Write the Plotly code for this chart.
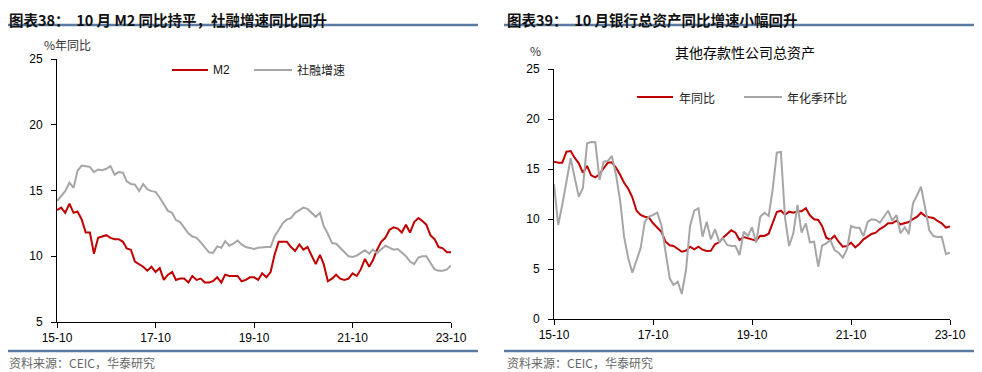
import plotly.graph_objects as go
import pandas as pd

# ---------------- data ----------------
months = pd.date_range("2015-10-01", "2023-10-01", freq="MS")
tick_vals = ["2015-10-01", "2017-10-01", "2019-10-01", "2021-10-01", "2023-10-01"]
tick_text = ["15-10", "17-10", "19-10", "21-10", "23-10"]

# Chart 38: M2 YoY and total social financing growth (%)
m2 = [13.5, 13.7, 13.3,
      14.0, 13.3, 13.4, 12.8, 11.8, 11.8, 10.2, 11.4, 11.5, 11.6, 11.4, 11.3,
      11.3, 11.1, 10.6, 10.5, 9.6, 9.4, 9.2, 8.9, 9.2, 8.8, 9.1, 8.2,
      8.6, 8.8, 8.2, 8.3, 8.3, 8.0, 8.5, 8.2, 8.3, 8.0, 8.0, 8.1,
      8.4, 8.0, 8.6, 8.5, 8.5, 8.5, 8.1, 8.2, 8.4, 8.4, 8.2, 8.7,
      8.4, 8.8, 10.1, 11.1, 11.1, 11.1, 10.7, 10.4, 10.9, 10.5, 10.7, 10.1,
      9.4, 10.1, 9.4, 8.1, 8.3, 8.6, 8.3, 8.2, 8.3, 8.7, 8.5, 9.0,
      9.8, 9.2, 9.7, 10.5, 11.1, 11.4, 12.0, 12.2, 12.1, 11.8, 12.4, 11.8,
      12.6, 12.9, 12.7, 12.4, 11.6, 11.3, 10.7, 10.6, 10.3, 10.3]
tsf = [14.2, 14.6, 14.95, 15.6, 15.2, 16.5, 16.9, 16.85, 16.8, 16.4,
       16.6, 16.55, 16.65, 16.85, 16.2, 16.4, 16.35, 15.7, 15.5, 15.45,
       14.95, 15.5, 15.1, 14.95, 14.9, 14.45, 14.0, 13.45, 13.3, 12.75,
       12.6, 12.15, 11.75, 11.5, 11.4, 11.05, 10.7, 10.3, 10.25, 10.75,
       10.65, 11.15, 10.8, 10.95, 11.2, 10.9, 10.7, 10.65, 10.55, 10.65,
       10.7, 10.7, 10.7, 11.5, 12.0, 12.5, 12.8, 12.9, 13.3, 13.5,
       13.7, 13.6, 13.3, 13.0, 13.3, 12.3, 11.7, 11.0, 10.95, 10.65,
       10.3, 10.0, 9.95, 10.05, 10.25, 10.45, 10.2, 10.5, 10.25, 10.55,
       10.8, 10.65, 10.5, 10.55, 10.3, 10.0, 9.6, 9.4, 9.9, 10.0,
       10.0, 9.5, 9.0, 8.9, 8.9, 9.0, 9.3]

# Chart 39: other depository corporations total assets (%)
assets_yoy = [15.73, 15.63, 15.63, 16.73, 16.8, 16.13, 15.57, 14.63, 15.3, 14.37,
              14.17, 14.47, 15.07, 15.63, 15.67, 15.13, 14.4, 13.63, 13.03, 12.17,
              10.83, 10.4, 10.23, 10.13, 9.57, 9.17, 8.73, 7.73, 7.37, 7.3,
              6.97, 6.73, 6.83, 7.23, 6.97, 7.23, 6.93, 6.8, 6.83, 7.47,
              7.67, 8.13, 8.5, 8.87, 8.63, 7.9, 8.2, 8.1, 8.0, 7.83,
              8.33, 8.3, 8.53, 9.63, 10.7, 10.83, 10.43, 10.73, 10.63, 10.77,
              10.77, 11.07, 10.37, 9.97, 9.9, 9.3, 8.13, 7.93, 8.33, 7.73,
              7.23, 7.3, 7.63, 7.17, 7.5, 7.97, 8.23, 8.5, 8.63, 9.0,
              9.23, 9.57, 9.57, 9.83, 9.47, 9.6, 9.7, 10.0, 10.23, 10.63,
              10.3, 10.17, 10.1, 9.8, 9.57, 9.13, 9.25]
assets_qoq_ann = [13.5, 9.4, 11.43, 13.8, 16.07, 14.17, 12.23, 13.07, 17.57, 17.7,
                  17.67, 13.9, 15.73, 15.8, 16.3, 14.4, 11.73, 8.23, 6.07, 4.63,
                  5.9, 7.07, 9.73, 10.23, 10.4, 10.63, 9.4, 6.9, 4.07, 3.4,
                  3.73, 2.5, 4.9, 9.3, 10.83, 11.07, 8.23, 9.73, 7.97, 8.97,
                  7.73, 8.07, 7.4, 7.3, 7.3, 6.4, 8.73, 8.3, 9.17, 7.63,
                  10.23, 10.63, 10.3, 12.9, 16.63, 16.7, 10.07, 7.3, 8.57, 11.4,
                  8.63, 9.57, 7.67, 7.73, 5.23, 7.33, 7.57, 7.9, 6.9, 6.63,
                  6.13, 6.97, 9.3, 9.13, 9.13, 8.3, 9.73, 9.97, 9.9, 9.63,
                  10.3, 10.83, 9.83, 10.4, 8.57, 9.17, 8.5, 11.57, 12.4, 13.23,
                  11.07, 8.87, 8.3, 8.2, 8.23, 6.5, 6.63]

left_names = ["M2", "社融增速"]
right_names = ["年同比", "年化季环比"]

# ---------------- styles ----------------
# The page body keeps the browser's default 8px margin, so the figure is
# drawn 8px in from the window's top-left corner; all layout coordinates
# below are given in window pixels and converted here.
OFF = 8
W, H = 982 - OFF, 372 - OFF
RED = "#C00000"
GREY = "#A6A6A6"
BLUE = "#5B7BA3"
NUM_FONT = "Liberation Sans, Arial, Noto Sans CJK SC"
CJK_FONT = "Noto Sans CJK SC, Liberation Sans"


def px(x):
    return (x - OFF) / W


def py(y):
    return (H - (y - OFF)) / H


fig = go.Figure()
fig.add_trace(go.Scatter(x=months, y=m2, name=left_names[0], mode="lines",
                         line=dict(color=RED, width=2), xaxis="x", yaxis="y"))
fig.add_trace(go.Scatter(x=months, y=tsf, name=left_names[1], mode="lines",
                         line=dict(color=GREY, width=2), xaxis="x", yaxis="y"))
fig.add_trace(go.Scatter(x=months, y=assets_yoy, name=right_names[0], mode="lines",
                         line=dict(color=RED, width=2), xaxis="x2", yaxis="y2"))
fig.add_trace(go.Scatter(x=months, y=assets_qoq_ann, name=right_names[1], mode="lines",
                         line=dict(color=GREY, width=2), xaxis="x2", yaxis="y2"))

axis_common = dict(showgrid=False, zeroline=False, showline=True, linecolor="black",
                   linewidth=1, ticks="outside", ticklen=5, tickcolor="black",
                   tickwidth=1, automargin=False,
                   tickfont=dict(family=NUM_FONT, size=12, color="black"))

x_common = dict(axis_common, type="date", range=[months[0], months[-1]],
                tickmode="array", tickvals=tick_vals, ticktext=tick_text)

fig.update_layout(
    template="none",
    width=W, height=H,
    margin=dict(l=0, r=0, t=0, b=0, autoexpand=False),
    paper_bgcolor="white", plot_bgcolor="white",
    showlegend=False,
    xaxis=dict(x_common, domain=[px(57), px(451)], anchor="y"),
    yaxis=dict(axis_common, domain=[py(322), py(59)], range=[5, 25], dtick=5,
               tick0=5, anchor="x", ticklabelstandoff=6),
    xaxis2=dict(x_common, domain=[px(554), px(950)], anchor="y2"),
    yaxis2=dict(axis_common, domain=[py(319), py(69)], range=[0, 25], dtick=5,
                tick0=0, anchor="x2", ticklabelstandoff=6),
)


def hline(x0, x1, y, color, width):
    return dict(type="line", xref="paper", yref="paper", x0=px(x0), x1=px(x1),
                y0=py(y), y1=py(y), line=dict(color=color, width=width))


def note(text, x, y, size=12, color="#222", bold=False, family=CJK_FONT,
         anchor="left", yanchor="middle"):
    if bold:
        text = "<b>" + text + "</b>"
    return dict(text=text, xref="paper", yref="paper", x=px(x), y=py(y),
                xanchor=anchor, yanchor=yanchor, showarrow=False, borderpad=0,
                font=dict(family=family, size=size, color=color))


shapes = [
    # header / footer rules
    hline(6, 478, 25, BLUE, 2.5),
    hline(504, 982, 25, BLUE, 2.5),
    hline(6, 478, 351, BLUE, 2.5),
    hline(504, 982, 351, BLUE, 2.5),
    # legend swatches
    hline(172, 208, 70, RED, 2),
    hline(254, 292, 70, GREY, 2),
    hline(637, 673, 97, RED, 2),
    hline(744, 782, 97, GREY, 2),
]

annotations = [
    note("图表38：  10 月 M2 同比持平，社融增速同比回升", 8, 8, size=14.5, color="#111",
         bold=True, yanchor="top"),
    note("图表39：  10 月银行总资产同比增速小幅回升", 506, 8, size=14.5, color="#111",
         bold=True, yanchor="top"),
    note("%年同比", 43, 45, size=12, color="#333"),
    note("%", 529, 50, size=12, color="#333"),
    note("其他存款性公司总资产", 745, 52, size=14, color="#000", anchor="center"),
    note(left_names[0], 212, 70, size=12, color="#111", family=NUM_FONT),
    note(left_names[1], 296, 70, size=12, color="#222"),
    note(right_names[0], 678, 97, size=12, color="#222"),
    note(right_names[1], 786, 97, size=12, color="#222"),
    note("资料来源：CEIC，华泰研究", 8, 362, size=12, color="#666"),
    note("资料来源：CEIC，华泰研究", 506, 362, size=12, color="#666"),
]
fig.update_layout(shapes=shapes, annotations=annotations)

fig.write_html("out.html")
